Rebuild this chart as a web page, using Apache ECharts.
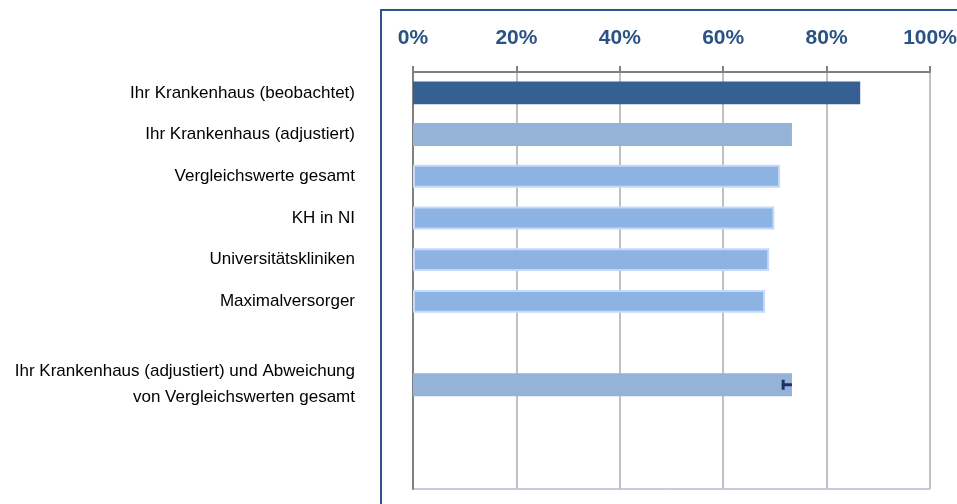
<!DOCTYPE html>
<html>
<head>
<meta charset="utf-8">
<script src="https://cdn.jsdelivr.net/npm/echarts@6/dist/echarts.min.js"></script>
<style>
html, body { margin: 0; padding: 0; background: #fff; }
#chart { width: 957px; height: 504px; }
</style>
</head>
<body>
<div id="chart"></div>
<script>
// categories top to bottom (empty slots keep the spacing)
var categories = [
	'Ihr Krankenhaus (beobachtet)',
	'Ihr Krankenhaus (adjustiert)',
	'Vergleichswerte gesamt',
	'KH in NI',
	'Universitätskliniken',
	'Maximalversorger',
	'',
	'Ihr Krankenhaus (adjustiert) und Abweichung\nvon Vergleichswerten gesamt',
	' ',
	'  '
];
var values = [0.865, 0.733, 0.71, 0.699, 0.689, 0.681, null, 0.733, null, null];
// deviation marker: [from, to, category index]
var deviation = [[0.716, 0.733, 7]];
var tickLabels = ['0%', '20%', '40%', '60%', '80%', '100%'];

var chart = echarts.init(document.getElementById('chart'));

function barStyle(i) {
	if (i === 0) return { color: '#366092' };
	if (i === 1 || i === 7) return { color: '#95B3D7' };
	return { color: '#8DB3E2', borderColor: '#C5D9FB', borderWidth: 2 };
}

var option = {
	backgroundColor: '#fff',
	animation: false,
	grid: {
		left: 413,
		right: 27,
		top: 72,
		bottom: 15,
		outerBoundsMode: 'none',
		containLabel: false,
		show: true,
		borderColor: '#8A9BB3',
		borderWidth: 1
	},
	graphic: [{
		type: 'rect',
		shape: { x: 381, y: 10, width: 700, height: 600 },
		style: { fill: null, stroke: '#2C5590', lineWidth: 2 },
		z: -1
	}],
	xAxis: {
		type: 'value',
		position: 'top',
		min: 0,
		max: 1,
		interval: 0.2,
		axisLine: { show: true, lineStyle: { color: '#808080', width: 2 } },
		axisTick: { show: true, length: 6, inside: false, lineStyle: { color: '#808080', width: 2 } },
		splitLine: { show: true, lineStyle: { color: '#C0C0C0', width: 2 } },
		axisLabel: {
			margin: 23,
			fontFamily: 'Liberation Sans, Arial, sans-serif',
			fontSize: 21,
			fontWeight: 'bold',
			color: '#2B5285',
			formatter: function(v) {
				return tickLabels[Math.round(v / 0.2)];
			}
		}
	},
	yAxis: {
		type: 'category',
		inverse: true,
		data: categories,
		axisLine: { show: true, lineStyle: { color: '#808080', width: 2 } },
		axisTick: { show: false },
		axisLabel: {
			margin: 58,
			fontFamily: 'Liberation Sans, Arial, sans-serif',
			fontSize: 17,
			color: '#000',
			lineHeight: 26,
			align: 'right'
		}
	},
	series: [{
		type: 'bar',
		barWidth: '55%',
		data: values.map(function(v, i) {
			return { value: v, itemStyle: barStyle(i) };
		})
	}, {
		type: 'custom',
		data: deviation,
		encode: { x: [0, 1], y: 2 },
		z: 5,
		renderItem: function(params, api) {
			var a = api.coord([api.value(0), api.value(2)]);
			var b = api.coord([api.value(1), api.value(2)]);
			return {
				type: 'group',
				children: [{
					type: 'line',
					shape: { x1: a[0], y1: a[1], x2: b[0], y2: b[1] },
					style: { stroke: '#1F2F6B', lineWidth: 3 }
				}, {
					type: 'line',
					shape: { x1: a[0], y1: a[1] - 5, x2: a[0], y2: a[1] + 5 },
					style: { stroke: '#1F2F6B', lineWidth: 3 }
				}]
			};
		}
	}]
};
chart.setOption(option);
</script>
</body>
</html>
